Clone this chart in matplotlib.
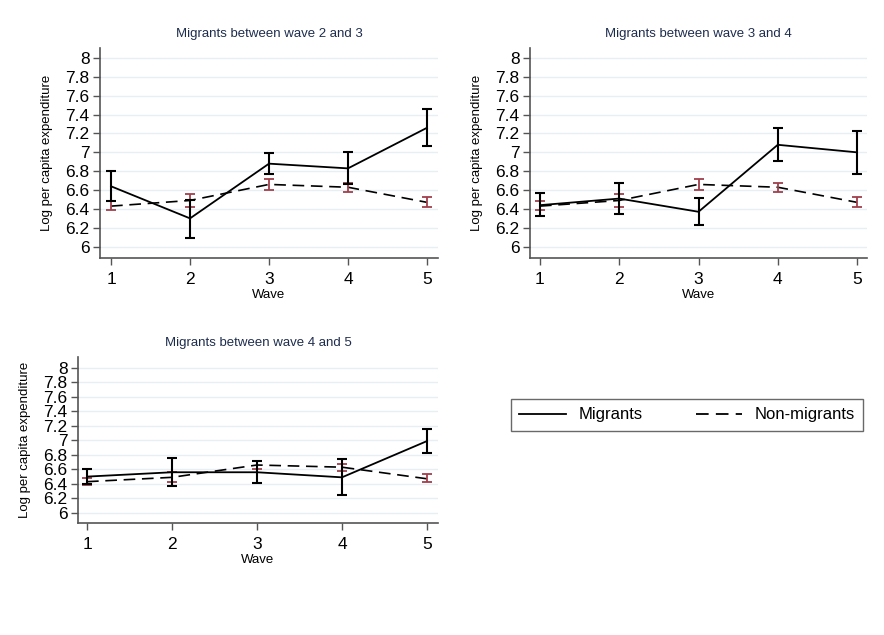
import numpy as np
import matplotlib.pyplot as plt
from matplotlib.lines import Line2D

plt.rcParams['font.family'] = ['Liberation Sans', 'DejaVu Sans']

waves = [1, 2, 3, 4, 5]

# non-migrants (same reference group in every panel)
non_mean = [6.43, 6.49, 6.66, 6.63, 6.47]
non_lo = [6.39, 6.42, 6.60, 6.58, 6.42]
non_hi = [6.48, 6.56, 6.72, 6.68, 6.53]

# migrants between wave 2 and 3
m23_mean = [6.64, 6.30, 6.88, 6.83, 7.26]
m23_lo = [6.48, 6.09, 6.77, 6.66, 7.07]
m23_hi = [6.80, 6.50, 6.99, 7.00, 7.46]

# migrants between wave 3 and 4
m34_mean = [6.44, 6.51, 6.37, 7.08, 7.00]
m34_lo = [6.33, 6.35, 6.23, 6.91, 6.77]
m34_hi = [6.57, 6.68, 6.52, 7.26, 7.23]

# migrants between wave 4 and 5
m45_mean = [6.50, 6.56, 6.56, 6.49, 6.99]
m45_lo = [6.40, 6.37, 6.41, 6.25, 6.83]
m45_hi = [6.60, 6.75, 6.72, 6.74, 7.15]

titles = ['Migrants between wave 2 and 3',
          'Migrants between wave 3 and 4',
          'Migrants between wave 4 and 5']
yticks = [6, 6.2, 6.4, 6.6, 6.8, 7, 7.2, 7.4, 7.6, 7.8, 8]
ytick_labels = ['6', '6.2', '6.4', '6.6', '6.8', '7', '7.2', '7.4', '7.6', '7.8', '8']

title_color = '#1e2d4e'
red = '#a0404c'
spine_color = '#555555'

fig = plt.figure(figsize=(8.84, 6.35), dpi=100)

panels = [
    ([100 / 884, 1 - 258 / 635, 338 / 884, 210 / 635], (0.86, 5.14), (5.88, 8.106),
     m23_mean, m23_lo, m23_hi),
    ([530 / 884, 1 - 258 / 635, 337 / 884, 210 / 635], (0.874, 5.126), (5.88, 8.106),
     m34_mean, m34_lo, m34_hi),
    ([78 / 884, 1 - 523 / 635, 360 / 884, 166 / 635], (0.894, 5.13), (5.86, 8.15),
     m45_mean, m45_lo, m45_hi),
]


def draw_ci(ax, x, mean, lo, hi, color, lw, cap):
    mean = np.array(mean)
    err = [mean - np.array(lo), np.array(hi) - mean]
    ax.errorbar(x, mean, yerr=err, fmt='none', ecolor=color,
                elinewidth=lw, capsize=cap, capthick=lw, zorder=3)


for (rect, xlim, ylim, mm, mlo, mhi), title in zip(panels, titles):
    ax = fig.add_axes(rect)
    for y in yticks:
        ax.axhline(y, color='#e8eff2', lw=1.0, zorder=0)
    ax.plot(waves, non_mean, color='black', lw=1.2, dashes=(7, 4), zorder=2)
    draw_ci(ax, waves, non_mean, non_lo, non_hi, red, 1.3, 3.5)
    ax.plot(waves, mm, color='black', lw=1.3, zorder=4)
    draw_ci(ax, waves, mm, mlo, mhi, 'black', 1.5, 3.5)

    ax.set_xlim(*xlim)
    ax.set_ylim(*ylim)
    ax.set_xticks(waves)
    ax.set_yticks(yticks)
    ax.set_yticklabels(ytick_labels)
    ax.tick_params(axis='both', direction='out', length=5, width=1,
                   color=spine_color, labelsize=12.5, pad=2.5)
    ax.tick_params(axis='x', pad=5)
    for s in ['top', 'right']:
        ax.spines[s].set_visible(False)
    for s in ['left', 'bottom']:
        ax.spines[s].set_color(spine_color)
        ax.spines[s].set_linewidth(1.2)
    ax.set_xlabel('Wave', fontsize=9.5, labelpad=1.5)
    ax.set_ylabel('Log per capita expenditure', fontsize=9.5, labelpad=9)
    ax.set_title(title, fontsize=9.5, color=title_color, pad=8)

handles = [Line2D([], [], color='black', lw=1.3),
           Line2D([], [], color='black', lw=1.3, dashes=(7, 4))]
leg = fig.legend(handles, ['Migrants', 'Non-migrants'], ncol=2,
                 loc='center', bbox_to_anchor=(687 / 884, 1 - 415 / 635),
                 fontsize=12, frameon=True, fancybox=False,
                 handlelength=2.8, columnspacing=3.2, handletextpad=0.75,
                 borderpad=0.5)
leg.get_frame().set_edgecolor('#444444')
leg.get_frame().set_linewidth(1.0)

fig.savefig('out.png', dpi=100, facecolor='white')
